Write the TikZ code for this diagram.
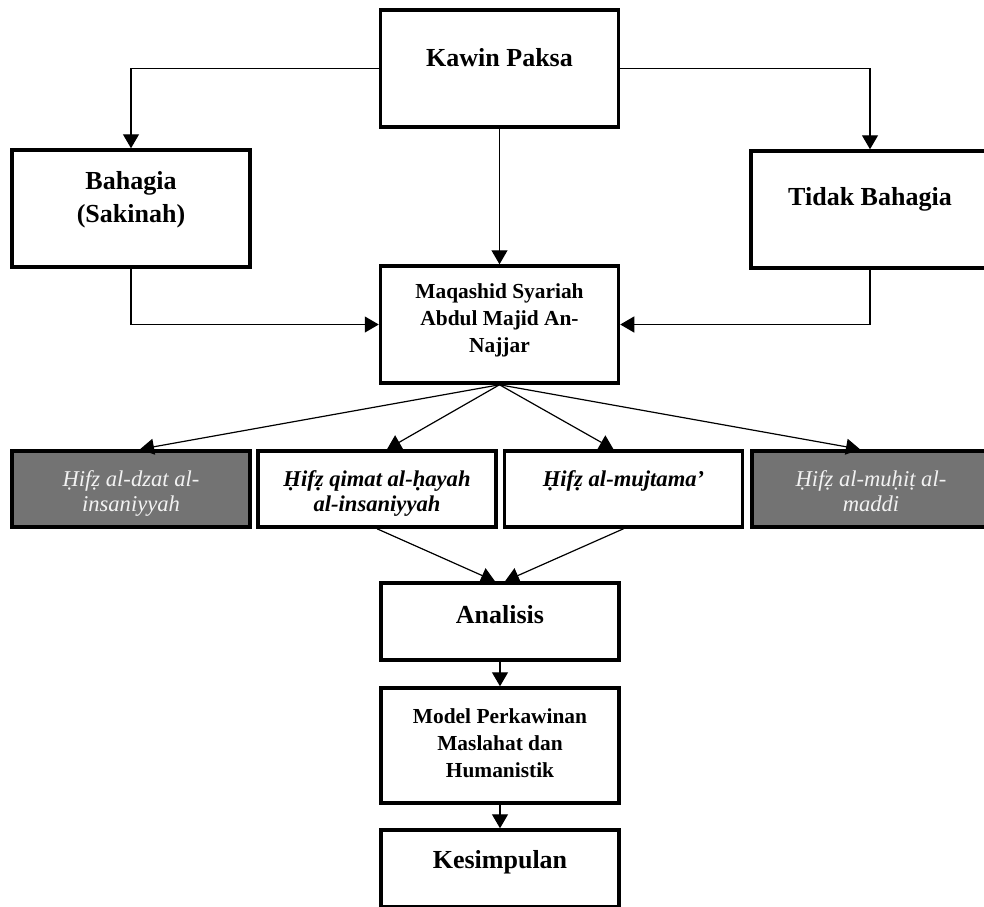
\documentclass[tikz,border=0pt]{standalone}
\usepackage{fontspec}
\setmainfont{Liberation Serif}
\usepackage{tikz}
\usetikzlibrary{arrows.meta}
\usetikzlibrary{positioning}

\definecolor{boxgray}{HTML}{737373}
\definecolor{paletext}{HTML}{F2F2F2}

\begin{document}
\begin{tikzpicture}[x=0.5pt, y=-0.5pt,
    box/.style={rectangle, draw=black, line width=1.75pt, minimum width=119pt, inner sep=0pt},
    graybox/.style={box, fill=boxgray},
    big/.style={font=\fontsize{13}{16.5}\selectfont\bfseries, align=center, inner sep=0pt},
    mid/.style={font=\fontsize{10.7}{13.5}\selectfont\bfseries, align=center, inner sep=0pt},
    small/.style={font=\fontsize{11.3}{12.5}\selectfont\itshape, align=center, inner sep=0pt},
    arrow/.style={line width=0.6pt, -{Triangle[length=7pt, width=8pt]}},
    link/.style={line width=0.6pt}]

  \useasboundingbox (0,0) rectangle (984,906);

  % boxes
  \node[box, minimum height=58.5pt] (kawin) at (499.5,68.5) {};
  \node[box, minimum height=58.5pt] (bahagia) at (131,208.5) {};
  \node[box, minimum height=58.5pt] (tidak) at (870,209.5) {};
  \node[box, minimum height=58.5pt] (maqashid) at (499.5,324.5) {};
  \node[graybox, minimum height=38pt] (dzat) at (131,489) {};
  \node[box, minimum height=38pt] (qimat) at (377,489) {};
  \node[box, minimum height=38pt] (mujtama) at (623.5,489) {};
  \node[graybox, minimum height=38pt] (muhit) at (871,489) {};
  \node[box, minimum height=38.5pt] (analisis) at (500,621.5) {};
  \node[box, minimum height=57.5pt] (model) at (500,745.5) {};
  \node[box, minimum height=38.5pt] (kesimpulan) at (500,868.5) {};

  % texts
  \node[big, below=20pt of kawin.north] (kawin_t) {Kawin Paksa};
  \node[big, below=11.5pt of bahagia.north] (bahagia_t) {Bahagia\\(Sakinah)};
  \node[big, below=19pt of tidak.north] (tidak_t) {Tidak Bahagia};
  \node[mid, below=9.5pt of maqashid.north] (maqashid_t) {Maqashid Syariah\\Abdul Majid An-\\Najjar};
  \node[small, text=paletext, below=10.5pt of dzat.north] (dzat_t) {Ḥifẓ al-dzat al-\\insaniyyah};
  \node[small, font=\fontsize{11.3}{12.5}\selectfont\bfseries\itshape, below=10.5pt of qimat.north] (qimat_t) {Ḥifẓ qimat al-ḥayah\\al-insaniyyah};
  \node[small, font=\fontsize{11.3}{12.5}\selectfont\bfseries\itshape, below=10.5pt of mujtama.north] (mujtama_t) {Ḥifẓ al-mujtama’};
  \node[small, text=paletext, below=10.5pt of muhit.north] (muhit_t) {Ḥifẓ al-muḥiṭ al-\\maddi};
  \node[big, below=12pt of analisis.north] (analisis_t) {Analisis};
  \node[mid, below=11pt of model.north] (model_t) {Model Perkawinan\\Maslahat dan\\Humanistik};
  \node[big, below=11pt of kesimpulan.north] (kesimpulan_t) {Kesimpulan};

  % connectors
  \draw[arrow] (kawin.west) -| (bahagia.north);
  \draw[arrow] (kawin.east) -| (tidak.north);
  \draw[arrow] (kawin.south) -- (maqashid.north);
  \draw[arrow] (bahagia.south) |- (maqashid.west);
  \draw[arrow] (tidak.south) |- (maqashid.east);

  \draw[arrow] (maqashid.south) -- ([xshift=4.5pt]dzat.north);
  \draw[arrow] (maqashid.south) -- ([xshift=5pt]qimat.north);
  \draw[arrow] (maqashid.south) -- ([xshift=-5pt]mujtama.north);
  \draw[arrow] (maqashid.south) -- ([xshift=-5.5pt]muhit.north);

  \draw[arrow] (qimat.south) -- ([xshift=-2.5pt]analisis.north);
  \draw[arrow] (mujtama.south) -- ([xshift=2.5pt]analisis.north);
  \draw[arrow] (analisis.south) -- (model.north);
  \draw[arrow] (model.south) -- (kesimpulan.north);
\end{tikzpicture}
\end{document}
